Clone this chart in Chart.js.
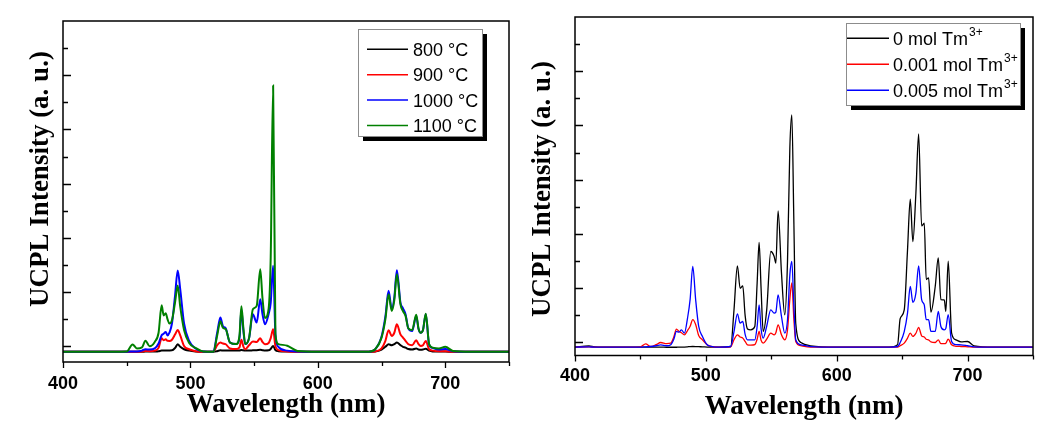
<!DOCTYPE html>
<html>
<head>
<meta charset="utf-8">
<script src="https://cdn.jsdelivr.net/npm/chart.js@4.4.1/dist/chart.umd.min.js"></script>
<style>
  html, body { margin: 0; padding: 0; background: #fff; }
  #wrap { position: relative; width: 1052px; height: 430px; }
  .panel { position: absolute; top: 0; width: 526px; height: 430px; }
  #leftPanel { left: 0; }
  #rightPanel { left: 526px; }
</style>
</head>
<body>
<div id="wrap">
  <div class="panel" id="leftPanel"><canvas id="tempChart" width="526" height="430"></canvas></div>
  <div class="panel" id="rightPanel"><canvas id="tmChart" width="526" height="430"></canvas></div>
</div>
<script>
// left panel: spectra for different calcination temperatures
const tempWavelengths = [400, 420, 440, 450, 454.6, 458, 462, 464.7, 468, 472, 475, 477.4, 479, 480.6, 482, 483.5, 485.5, 488, 490, 492, 495, 499, 504, 510, 518, 521, 523.5, 525.5, 527.7, 531, 536, 538.5, 540, 541.5, 543, 546, 549, 552, 554.8, 556.5, 558.5, 561.4, 563, 564.9, 566.7, 569, 576, 584, 600, 620, 640, 645, 650, 653, 655.5, 658, 660, 662, 664.8, 666.8, 668.8, 671, 674, 677.2, 679, 680.7, 682.5, 684.7, 687.3, 690, 695, 700, 706, 720, 750];
const temp800 = [-100, -100, -100, -100, -100, -100, -100, -98, -98, -95, -90, -80, -80, -78, -78, -76, -75, -30, 37, -10, -55, -80, -95, -100, -100, -90, -75, -78, -80, -80, -80, -78, -70, -75, -80, -78, -75, -72, -65, -72, -78, -75, -50, 6, -70, -90, -98, -100, -100, -100, -100, -95, -60, -10, 37, 20, 40, 68, 20, -10, -25, -50, -60, -40, -60, -65, -60, -45, -80, -95, -98, -98, -100, -100, -100];
const temp900 = [-100, -100, -100, -100, -100, -100, -95, -85, -90, -80, -30, 148, 110, 129, 100, 98, 120, 220, 300, 200, 6, -55, -90, -100, -100, 20, 68, 50, 37, -40, -50, -20, 120, 0, -55, 20, 86, 80, 148, 80, 37, 60, 150, 314, 0, -70, -95, -100, -100, -100, -100, -95, -40, 100, 296, 191, 250, 406, 220, 160, 100, 37, 20, 111, 40, 6, 20, 98, -55, -80, -90, -90, -100, -100, -100];
const temp1000 = [-100, -100, -100, -100, -95, -95, -80, -55, -60, -40, 50, 204, 230, 265, 200, 250, 420, 950, 1400, 1050, 420, 100, -40, -95, -100, 250, 530, 370, 330, 68, 40, 150, 680, 300, 40, 150, 591, 437, 868, 600, 406, 600, 800, 1484, 222, -10, -80, -95, -100, -100, -100, -55, 180, 550, 1022, 683, 900, 1404, 806, 700, 591, 330, 280, 560, 320, 250, 300, 591, 30, -30, -60, -50, -90, -100, -100];
const temp1100 = [-100, -100, -100, -95, 35, -40, -20, 100, 0, 80, 250, 755, 570, 610, 500, 420, 480, 820, 1120, 730, 300, 60, -30, -95, -100, 200, 460, 340, 315, 70, 40, 200, 740, 350, 40, 150, 684, 745, 1420, 900, 520, 700, 1640, 4810, 220, 40, 10, -85, -100, -100, -100, -55, 160, 500, 960, 653, 850, 1330, 776, 650, 560, 330, 300, 580, 330, 250, 300, 600, 40, -25, -40, -10, -85, -100, -100];
const tempLabels = ["800 °C", "900 °C", "1000 °C", "1100 °C"];
const tempColors = ["#000000", "#ff0000", "#0000ff", "#008000"];

// right panel: spectra for different Tm3+ contents
const tmWavelengths = [400, 410.7, 415, 430, 450, 454, 457.9, 462, 465.5, 470, 473.2, 475.5, 477.5, 479.5, 481.3, 483.6, 486, 488, 490, 492.2, 494.5, 497.4, 501, 504, 510, 519, 521.5, 524.1, 526.2, 528.2, 530, 531.8, 534.3, 537.4, 539.2, 540.7, 542.2, 543.8, 546.5, 549.6, 552.2, 553.5, 555.2, 557.8, 560.3, 562.4, 564.2, 565.7, 567.2, 568.7, 572.6, 580, 600, 640, 646.5, 648.5, 651.6, 654.1, 656.2, 658.2, 660.5, 662.6, 664.9, 666.9, 668.4, 670.2, 672, 675.3, 677.6, 679.6, 682.2, 683.4, 685.2, 687.8, 691.1, 695, 700, 705, 720, 750];
const tm0 = [-86, -61, -80, -86, -86, -86, -86, -86, -86, -88, -88, -88, -88, -86, -86, -84, -80, -76, -74, -75, -78, -80, -85, -86, -86, -74, 600, 1413, 1000, 1044, 500, 250, 233, 295, 1100, 1843, 1000, 203, 600, 1677, 1585, 1462, 2427, 1278, 510, 1500, 3600, 4196, 2300, 350, 0, -61, -86, -86, -43, 440, 600, 1700, 2641, 1861, 2752, 3846, 2148, 2199, 1161, 1192, 560, 1037, 1560, 790, 786, 574, 1500, 174, 49, 10, 18, -61, -86, -86];
const tm001 = [-86, -80, -86, -86, -80, -25, -74, -40, 0, -20, -12, 100, 246, 203, 180, 141, 220, 300, 420, 330, 130, 49, -40, -74, -86, -80, 50, 141, 100, 80, 20, -43, -50, -40, 60, 203, 40, -12, 60, 172, 141, 180, 326, 141, 49, 233, 800, 1100, 450, 18, -60, -86, -86, -86, -86, -60, -12, 80, 172, 111, 170, 276, 123, 100, 60, 49, 10, 0, 49, -20, -20, -12, 61, -43, -70, -74, -80, -86, -86, -86];
const tm005 = [-86, -80, -86, -86, -86, -80, -74, -60, -43, -60, -40, 60, 203, 190, 233, 172, 450, 800, 1401, 790, 300, 111, -43, -70, -86, -74, 200, 528, 356, 387, 150, 49, 49, 49, 300, 694, 250, 80, 300, 602, 540, 560, 878, 479, 172, 418, 1250, 1493, 700, 49, -43, -75, -86, -86, -74, 0, 200, 540, 1032, 740, 909, 1410, 790, 694, 420, 420, 204, 203, 574, 296, 233, 260, 513, 18, -40, -43, -60, -80, -86, -86];
const tmLabels = ["0 mol Tm", "0.001 mol Tm", "0.005 mol Tm"];
const tmSup = "3+";
const tmColors = ["#000000", "#ff0000", "#0000ff"];

// axis ticks (y has no labels, only marks)
const xTickMarks = [400, 450, 500, 550, 600, 650, 700, 750];
const xTickLabels = [400, 500, 600, 700];
const yTickMarks = [0, 500, 1000, 1500, 2000, 2500, 3000, 3500, 4000, 4500, 5000, 5500];

const serif = "'Liberation Serif', 'Times New Roman', serif";
const sans = "'Liberation Sans', Arial, sans-serif";

// box around the plot, y ticks pointing in, x ticks pointing out
const frameTicks = {
  id: "frameTicks",
  afterDraw(chart) {
    const ctx = chart.ctx;
    const a = chart.chartArea;
    const xs = chart.scales.x;
    const ys = chart.scales.y;
    ctx.save();
    ctx.strokeStyle = "#000";
    ctx.lineWidth = 1.5;
    ctx.strokeRect(a.left, a.top, a.right - a.left, a.bottom - a.top);

    ctx.lineWidth = 1.3;
    ctx.beginPath();
    yTickMarks.forEach((v) => {
      const y = Math.round(ys.getPixelForValue(v)) + 0.5;
      const len = v % 1000 === 0 ? 8 : 5;
      ctx.moveTo(a.left, y);
      ctx.lineTo(a.left + len, y);
    });
    xTickMarks.forEach((v) => {
      const x = Math.round(xs.getPixelForValue(v)) + 0.5;
      const len = v % 100 === 0 ? 6 : 4;
      ctx.moveTo(x, a.bottom);
      ctx.lineTo(x, a.bottom + len);
    });
    ctx.stroke();
    ctx.restore();
  },
};

// rotated y axis title
const yTitle = {
  id: "yTitle",
  afterDraw(chart, args, opts) {
    const ctx = chart.ctx;
    ctx.save();
    ctx.translate(opts.x, opts.y);
    ctx.rotate(-Math.PI / 2);
    ctx.font = "bold 27px " + serif;
    ctx.fillStyle = "#000";
    ctx.textAlign = "center";
    ctx.textBaseline = "middle";
    ctx.fillText(opts.text, 0, 0);
    ctx.restore();
  },
};

// Origin style legend with drop shadow
const boxLegend = {
  id: "boxLegend",
  afterDraw(chart, args, opts) {
    const ctx = chart.ctx;
    ctx.save();
    ctx.fillStyle = "#000";
    ctx.fillRect(opts.x + 5, opts.y + 5, opts.w, opts.h);
    ctx.fillStyle = "#fff";
    ctx.fillRect(opts.x, opts.y, opts.w, opts.h);
    ctx.strokeStyle = "#8c8c8c";
    ctx.lineWidth = 1;
    ctx.strokeRect(opts.x + 0.5, opts.y + 0.5, opts.w, opts.h);

    chart.data.datasets.forEach((ds, i) => {
      const y = opts.rowY + i * opts.rowH;
      ctx.strokeStyle = ds.borderColor;
      ctx.lineWidth = 1.5;
      ctx.beginPath();
      ctx.moveTo(opts.lineX0, y);
      ctx.lineTo(opts.lineX1, y);
      ctx.stroke();

      ctx.fillStyle = "#000";
      ctx.font = "18px " + sans;
      ctx.textBaseline = "alphabetic";
      ctx.textAlign = "left";
      ctx.fillText(ds.label, opts.textX, y + 6.5);
      if (opts.sup) {
        const w = ctx.measureText(ds.label).width;
        ctx.font = "12px " + sans;
        ctx.fillText(opts.sup, opts.textX + w + 1, y - 2);
      }
    });
    ctx.restore();
  },
};

function makeDatasets(wavelengths, seriesList, labels, colors, width) {
  return seriesList.map((values, i) => ({
    label: labels[i],
    data: wavelengths.map((w, j) => ({ x: w, y: values[j] })),
    borderColor: colors[i],
    borderWidth: width,
    pointRadius: 0,
    cubicInterpolationMode: "monotone",
    order: seriesList.length - i,
  }));
}

function makeChart(canvasId, datasets, layout) {
  return new Chart(document.getElementById(canvasId), {
    type: "line",
    data: { datasets: datasets },
    options: {
      responsive: false,
      animation: false,
      layout: { padding: { top: layout.top, right: layout.right, left: 0, bottom: 0 } },
      scales: {
        x: {
          type: "linear",
          min: 400,
          max: 750,
          grid: { display: false, drawTicks: false },
          border: { display: false },
          ticks: {
            stepSize: 50,
            autoSkip: false,
            maxRotation: 0,
            padding: layout.tickPad,
            color: "#000",
            font: { family: sans, weight: "bold", size: 18 },
            callback: (v) => (xTickLabels.includes(v) ? String(v) : ""),
          },
          title: {
            display: true,
            text: "Wavelength (nm)",
            color: "#000",
            font: { family: serif, weight: "bold", size: 27 },
            padding: { top: 0, bottom: layout.titlePad },
          },
          afterFit: (scale) => {
            scale.height = layout.xHeight;
          },
        },
        y: {
          min: layout.yMin,
          max: 6000,
          grid: { display: false },
          border: { display: false },
          ticks: { display: false },
          afterFit: (scale) => {
            scale.width = layout.yWidth;
          },
        },
      },
      plugins: {
        legend: { display: false },
        tooltip: { enabled: false },
        yTitle: { text: "UCPL Intensity (a. u.)", x: layout.titleX, y: layout.titleY },
        boxLegend: layout.legend,
      },
    },
    plugins: [frameTicks, yTitle, boxLegend],
  });
}

makeChart(
  "tempChart",
  makeDatasets(tempWavelengths, [temp800, temp900, temp1000, temp1100], tempLabels, tempColors, 2),
  {
    top: 21, right: 17, yWidth: 63, xHeight: 68, yMin: -290,
    tickPad: 11, titlePad: 9, titleX: 41, titleY: 179,
    legend: { x: 358, y: 29, w: 124, h: 107, rowY: 49.3, rowH: 25.4, lineX0: 367, lineX1: 408, textX: 413 },
  }
);

makeChart(
  "tmChart",
  makeDatasets(tmWavelengths, [tm0, tm001, tm005], tmLabels, tmColors, 1.3),
  {
    top: 17, right: 19, yWidth: 49, xHeight: 74.5, yMin: -240,
    tickPad: 10, titlePad: 7, titleX: 17, titleY: 189,
    legend: { x: 320, y: 23, w: 174, h: 82, rowY: 38.3, rowH: 26, lineX0: 321, lineX1: 363, textX: 367, sup: tmSup },
  }
);
</script>
</body>
</html>
